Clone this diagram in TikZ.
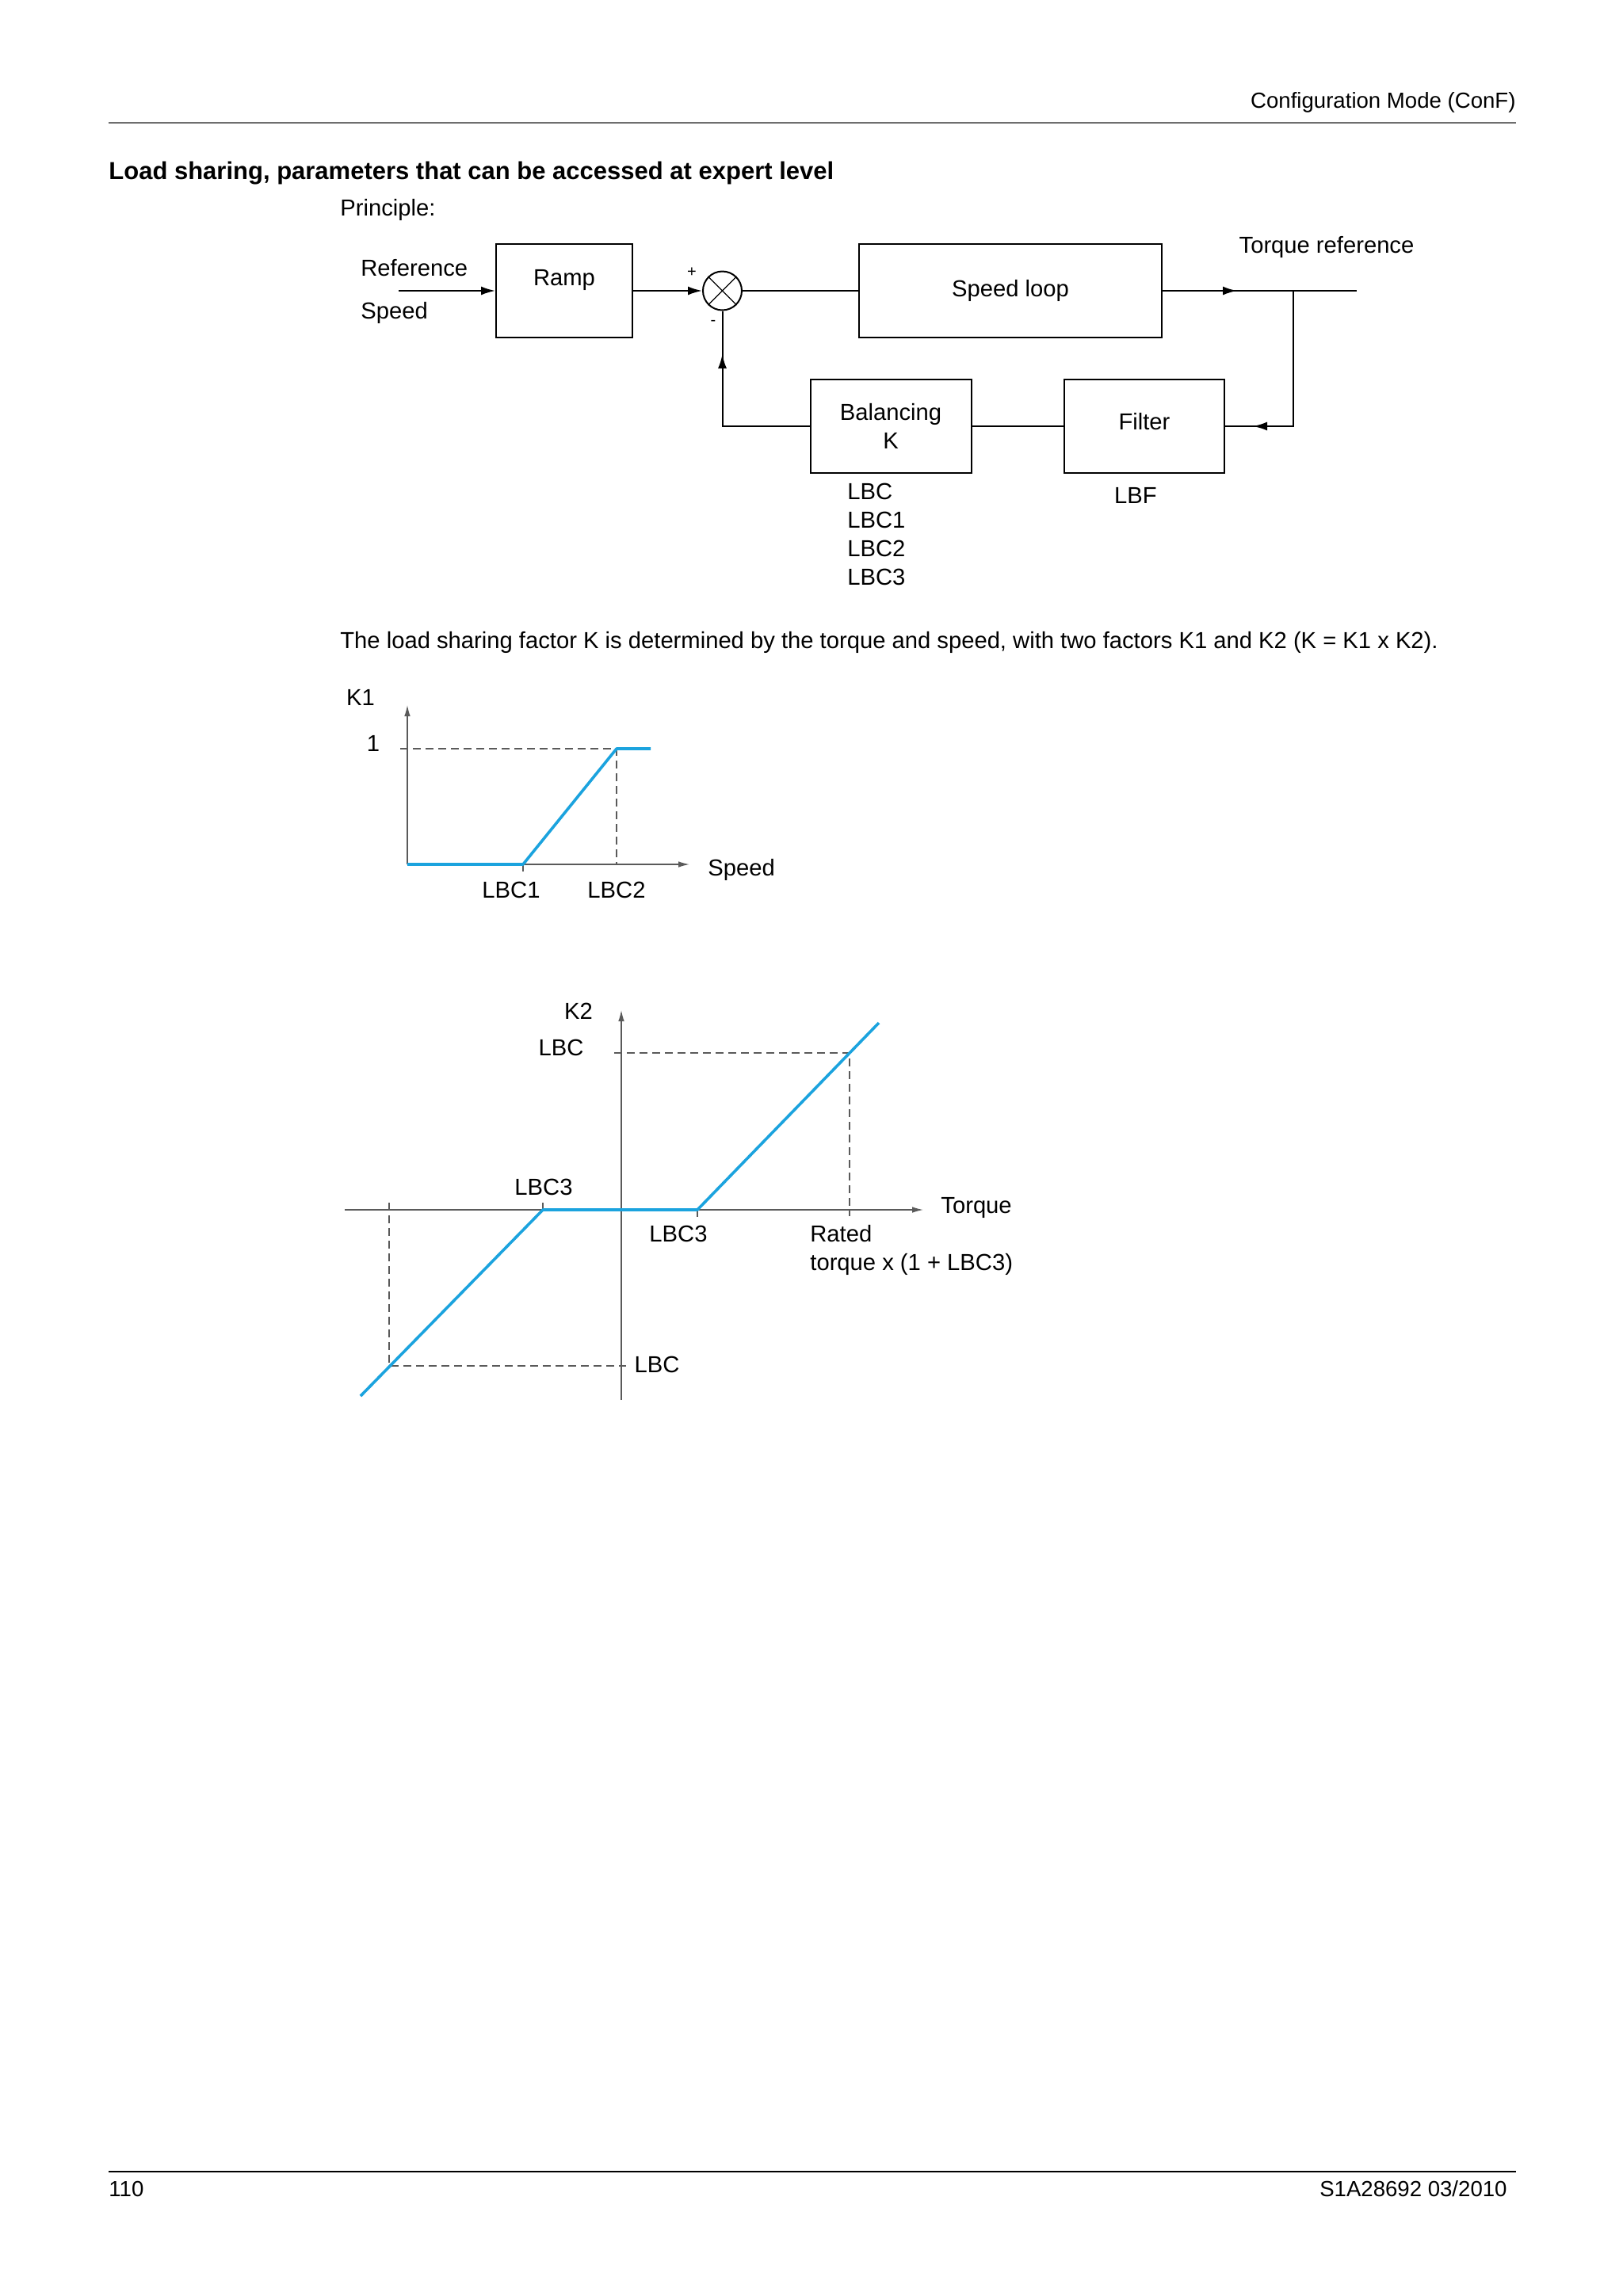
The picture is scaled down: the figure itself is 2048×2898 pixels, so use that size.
\documentclass[tikz,border=0pt]{standalone}
\usepackage{fontspec}
\setmainfont{Liberation Sans}
\usetikzlibrary{arrows.meta,decorations.markings}
\definecolor{kblue}{RGB}{27,163,222}
\definecolor{axgray}{RGB}{90,90,90}
\definecolor{rulegray}{RGB}{110,110,110}
\begin{document}
\begin{tikzpicture}[x=0.5pt,y=-0.5pt,
  every node/.style={font=\fontsize{14.6}{18}\selectfont, inner sep=0pt},
  lbl/.style={yshift=-2.5pt},
  small/.style={font=\fontsize{13.8}{17}\selectfont},
  blk/.style={draw, line width=1pt, minimum height=59pt, inner sep=0pt},
  wire/.style={line width=1pt},
  tip/.style={-{Latex[length=9pt,width=5.5pt]}},
  axis/.style={draw=axgray, line width=0.7pt, -{Latex[length=7pt,width=3.8pt]}},
  guide/.style={draw=axgray, line width=0.6pt, dash pattern=on 5pt off 3pt},
  curve/.style={draw=kblue, line width=1.8pt, line join=round},
  tick/.style={draw=axgray, line width=0.6pt},
  midtip/.style={postaction={decorate, decoration={markings, mark=at position #1 with {\arrow{Latex[length=9pt,width=5.5pt]}}}}},
  sign/.style={anchor=mid, font=\fontsize{10}{12}\selectfont},
]
\fill[white] (0,0) rectangle (2048,2898);
\useasboundingbox (0,0) rectangle (2048,2898);

% header
\node[lbl, small, anchor=mid east] (hdr) at (1913,126) {Configuration Mode (ConF)};
\draw[draw=rulegray, line width=1.3pt] (137,155) -- (1913,155);
\node[lbl, anchor=mid west, font=\fontsize{15.5}{18}\selectfont\bfseries] (title) at (137,216) {Load sharing, parameters that can be accessed at expert level};
\node[lbl, anchor=mid west] (princ) at (429,262) {Principle:};

% block diagram
\node[blk, minimum width=86pt, label={[yshift=7pt]center:Ramp}] (ramp) at (712,367) {};
\node[blk, minimum width=191pt] (loop) at (1275,367) {Speed loop};
\node[blk, minimum width=101.5pt, align=center] (bal) at (1124,538) {Balancing\\K};
\node[blk, minimum width=101pt, label={[yshift=3pt]center:Filter}] (filt) at (1444,538) {};
\node[draw, circle, line width=1pt, minimum size=24.5pt] (sum) at (911.5,367) {};
\draw[line width=0.6pt] (sum.north east) -- (sum.south west) (sum.north west) -- (sum.south east);

\coordinate (in) at (503,367);
\coordinate (out) at (1712,367);
\coordinate (br) at (1632,367);
\draw[wire,tip] (in) -- (ramp.west);
\draw[wire,tip] (ramp.east) -- (sum.west);
\draw[wire] (sum.east) -- (loop.west);
\draw[wire, midtip=47pt] (loop.east) -- (out);
\draw[wire, midtip=111pt] (br) |- (filt.east);
\draw[wire] (filt.west) -- (bal.east);
\draw[wire, midtip=100.5pt] (bal.west) -| (sum.south);

\node[lbl, anchor=mid west] (lref) at (455,338) {Reference};
\node[lbl, anchor=mid west] (lspd) at (455,392) {Speed};
\node[lbl, anchor=mid] (ltq) at (1674,309) {Torque reference};
\node[sign] (lplus) at (873,344) {+};
\node[sign] (lminus) at (900,405) {-};
\node[lbl, anchor=mid west] (p1) at (1069,620) {LBC};
\node[lbl, anchor=mid west] (p2) at (1069,656) {LBC1};
\node[lbl, anchor=mid west] (p3) at (1069,692) {LBC2};
\node[lbl, anchor=mid west] (p4) at (1069,728) {LBC3};
\node[lbl, anchor=mid] (pf) at (1433,625) {LBF};

\node[lbl, anchor=mid west] (txt) at (429,808) {The load sharing factor K is determined by the torque and speed, with two factors K1 and K2 (K = K1 x K2).};

% K1 chart
\coordinate (o1) at (514,1091);
\coordinate (y1) at (514,890);
\coordinate (x1) at (870,1091);
\draw[axis] (o1) -- (y1);
\draw[axis] (o1) -- (x1);
\draw[guide] (505,945) -- (778,945) -- (778,1091);
\draw[tick] (660,1091) -- (660,1100);
\draw[curve] (o1) -- (660,1091) -- (778,945) -- (821,945);
\node[lbl, anchor=mid] (k1) at (455,880) {K1};
\node[lbl, anchor=mid] (one) at (471,938) {1};
\node[lbl, anchor=mid west] (spd) at (893,1095) {Speed};
\node[lbl, anchor=mid] (lbc1) at (645,1123) {LBC1};
\node[lbl, anchor=mid] (lbc2) at (778,1123) {LBC2};

% K2 chart
\coordinate (o2b) at (784,1767);
\coordinate (y2) at (784,1275);
\coordinate (x2a) at (435,1527);
\coordinate (x2) at (1165,1527);
\draw[axis] (o2b) -- (y2);
\draw[axis] (x2a) -- (x2);
\draw[guide] (775,1329) -- (1072,1329) -- (1072,1535);
\draw[guide] (491,1518) -- (491,1724) -- (790,1724);
\draw[tick] (685,1518) -- (685,1527);
\draw[tick] (880,1527) -- (880,1536);
\draw[curve] (455,1762) -- (685,1527) -- (880,1527) -- (1109,1291);
\node[lbl, anchor=mid] (k2) at (730,1276) {K2};
\node[lbl, anchor=mid] (lbct) at (708,1322) {LBC};
\node[lbl, anchor=mid] (lbc3a) at (686,1498) {LBC3};
\node[lbl, anchor=mid] (lbc3b) at (856,1557) {LBC3};
\node[lbl, anchor=mid west] (tq) at (1187,1521) {Torque};
\node[lbl, anchor=mid west] (rated) at (1022,1557) {Rated};
\node[lbl, anchor=mid west] (rated2) at (1022,1593) {torque x (1 + LBC3)};
\node[lbl, anchor=mid] (lbcb) at (829,1722) {LBC};

% footer
\draw[line width=1.2pt] (137,2741) -- (1913,2741);
\node[lbl, small, anchor=mid west] (pg) at (137,2762) {110};
\node[lbl, small, anchor=mid east] (doc) at (1902,2762) {S1A28692 03/2010};
\end{tikzpicture}
\end{document}
